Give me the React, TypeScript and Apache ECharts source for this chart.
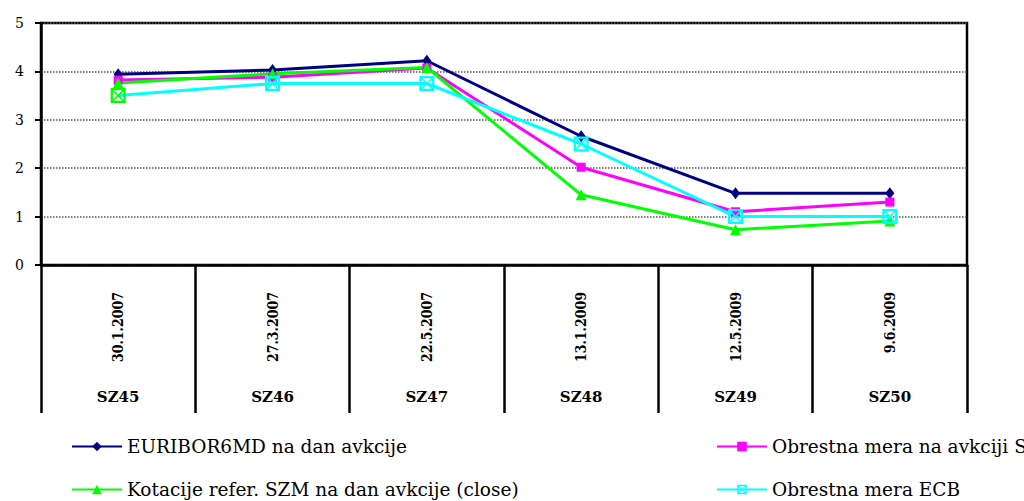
import React, { useEffect, useRef } from "react";
import * as echarts from "echarts";

// Auction sessions and their dates
const sessions = ["SZ45", "SZ46", "SZ47", "SZ48", "SZ49", "SZ50"];
const auctionDates = ["30.1.2007", "27.3.2007", "22.5.2007", "13.1.2009", "12.5.2009", "9.6.2009"];

// Rates in %
const euribor6m = [3.94, 4.03, 4.22, 2.66, 1.48, 1.48];
const auctionRate = [3.82, 3.88, 4.07, 2.02, 1.1, 1.3];
const refQuotes = [3.76, 3.95, 4.08, 1.45, 0.73, 0.91];
const ecbRate = [3.5, 3.75, 3.75, 2.5, 1.0, 1.0];

const yTicks = [0, 1, 2, 3, 4, 5];

const seriesNames = [
  "EURIBOR6MD na dan avkcije",
  "Obrestna mera na avkciji SZ",
  "Kotacije refer. SZM na dan avkcije (close)",
  "Obrestna mera ECB",
];

const NAVY = "#000080";
const MAGENTA = "#ff00ff";
const GREEN = "#00ff00";
const CYAN = "#00ffff";

// Hollow square with a cross inside (outer ring + two diagonals)
const crossSquare =
  "path://M0,0H10V10H0Z M1.5,1.5V8.5H8.5V1.5Z " +
  "M1.5,2.2L1.5,1.5L2.2,1.5L8.5,7.8L8.5,8.5L7.8,8.5Z " +
  "M7.8,1.5L8.5,1.5L8.5,2.2L2.2,8.5L1.5,8.5L1.5,7.8Z";

const FONT = "'DejaVu Serif', serif";
const FONT_COND = "'DejaVu Serif Condensed', 'DejaVu Serif', serif";

export default function App() {
  const ref = useRef<HTMLDivElement>(null);

  useEffect(() => {
    if (!ref.current) return;
    const chart = echarts.init(ref.current, undefined, { renderer: "svg" });

    const legendText = { fontFamily: FONT, fontSize: 18.5, color: "#000" };
    const legendItem = (name: string, left: number, top: number) => ({
      data: [name],
      left,
      top,
      padding: 0,
      itemWidth: 50,
      itemHeight: 12,
      textStyle: legendText,
      selectedMode: false,
    });

    chart.setOption({
      animation: false,
      backgroundColor: "#fff",
      grid: {
        left: 41,
        right: 57,
        top: 23,
        bottom: 236,
        show: true,
        borderColor: "#000",
        borderWidth: 2.5,
        backgroundColor: "transparent",
      },
      legend: [
        legendItem(seriesNames[0], 71, 437),
        legendItem(seriesNames[1], 716, 437),
        legendItem(seriesNames[2], 71, 480),
        legendItem(seriesNames[3], 716, 480),
      ],
      xAxis: [
        {
          type: "category",
          data: auctionDates,
          boundaryGap: true,
          axisLine: { show: true, lineStyle: { color: "#000", width: 2.5 } },
          axisTick: { show: true, length: 148, lineStyle: { color: "#000", width: 2.5 } },
          axisLabel: {
            interval: 0,
            rotate: 90,
            margin: 27,
            fontFamily: FONT_COND,
            fontSize: 14,
            fontWeight: "bold",
            color: "#000",
          },
          splitLine: { show: false },
        },
        {
          type: "category",
          data: sessions,
          position: "bottom",
          boundaryGap: true,
          axisLine: { show: false },
          axisTick: { show: false },
          axisLabel: {
            interval: 0,
            margin: 124,
            fontFamily: FONT,
            fontSize: 15,
            fontWeight: "bold",
            color: "#000",
          },
          splitLine: { show: false },
        },
      ],
      yAxis: {
        type: "value",
        min: yTicks[0],
        max: yTicks[yTicks.length - 1],
        interval: 1,
        axisLine: { show: true, lineStyle: { color: "#000", width: 2.5 } },
        axisTick: { show: true, length: 6, lineStyle: { color: "#000", width: 2 } },
        axisLabel: { margin: 17, fontFamily: FONT, fontSize: 14, color: "#000" },
        splitLine: { show: true, lineStyle: { color: "#555", type: "dotted", width: 1.5 } },
      },
      series: [
        {
          name: seriesNames[0],
          type: "line",
          data: euribor6m,
          symbol: "diamond",
          symbolSize: [9, 12],
          lineStyle: { color: NAVY, width: 3 },
          itemStyle: { color: NAVY },
        },
        {
          name: seriesNames[1],
          type: "line",
          data: auctionRate,
          symbol: "rect",
          symbolSize: 9,
          lineStyle: { color: MAGENTA, width: 3 },
          itemStyle: { color: MAGENTA },
        },
        {
          name: seriesNames[2],
          type: "line",
          data: refQuotes,
          symbol: "triangle",
          symbolSize: 11,
          lineStyle: { color: GREEN, width: 3 },
          itemStyle: { color: GREEN },
        },
        {
          name: seriesNames[3],
          type: "line",
          data: ecbRate.map((v, i) =>
            i === 0 ? { value: v, itemStyle: { color: GREEN } } : v
          ),
          symbol: crossSquare,
          symbolSize: 15,
          lineStyle: { color: CYAN, width: 3 },
          itemStyle: { color: CYAN },
        },
      ],
    });

    return () => chart.dispose();
  }, []);

  return (
    <div
      ref={ref}
      style={{ position: "fixed", left: 0, top: 0, width: 1024, height: 501 }}
    />
  );
}
